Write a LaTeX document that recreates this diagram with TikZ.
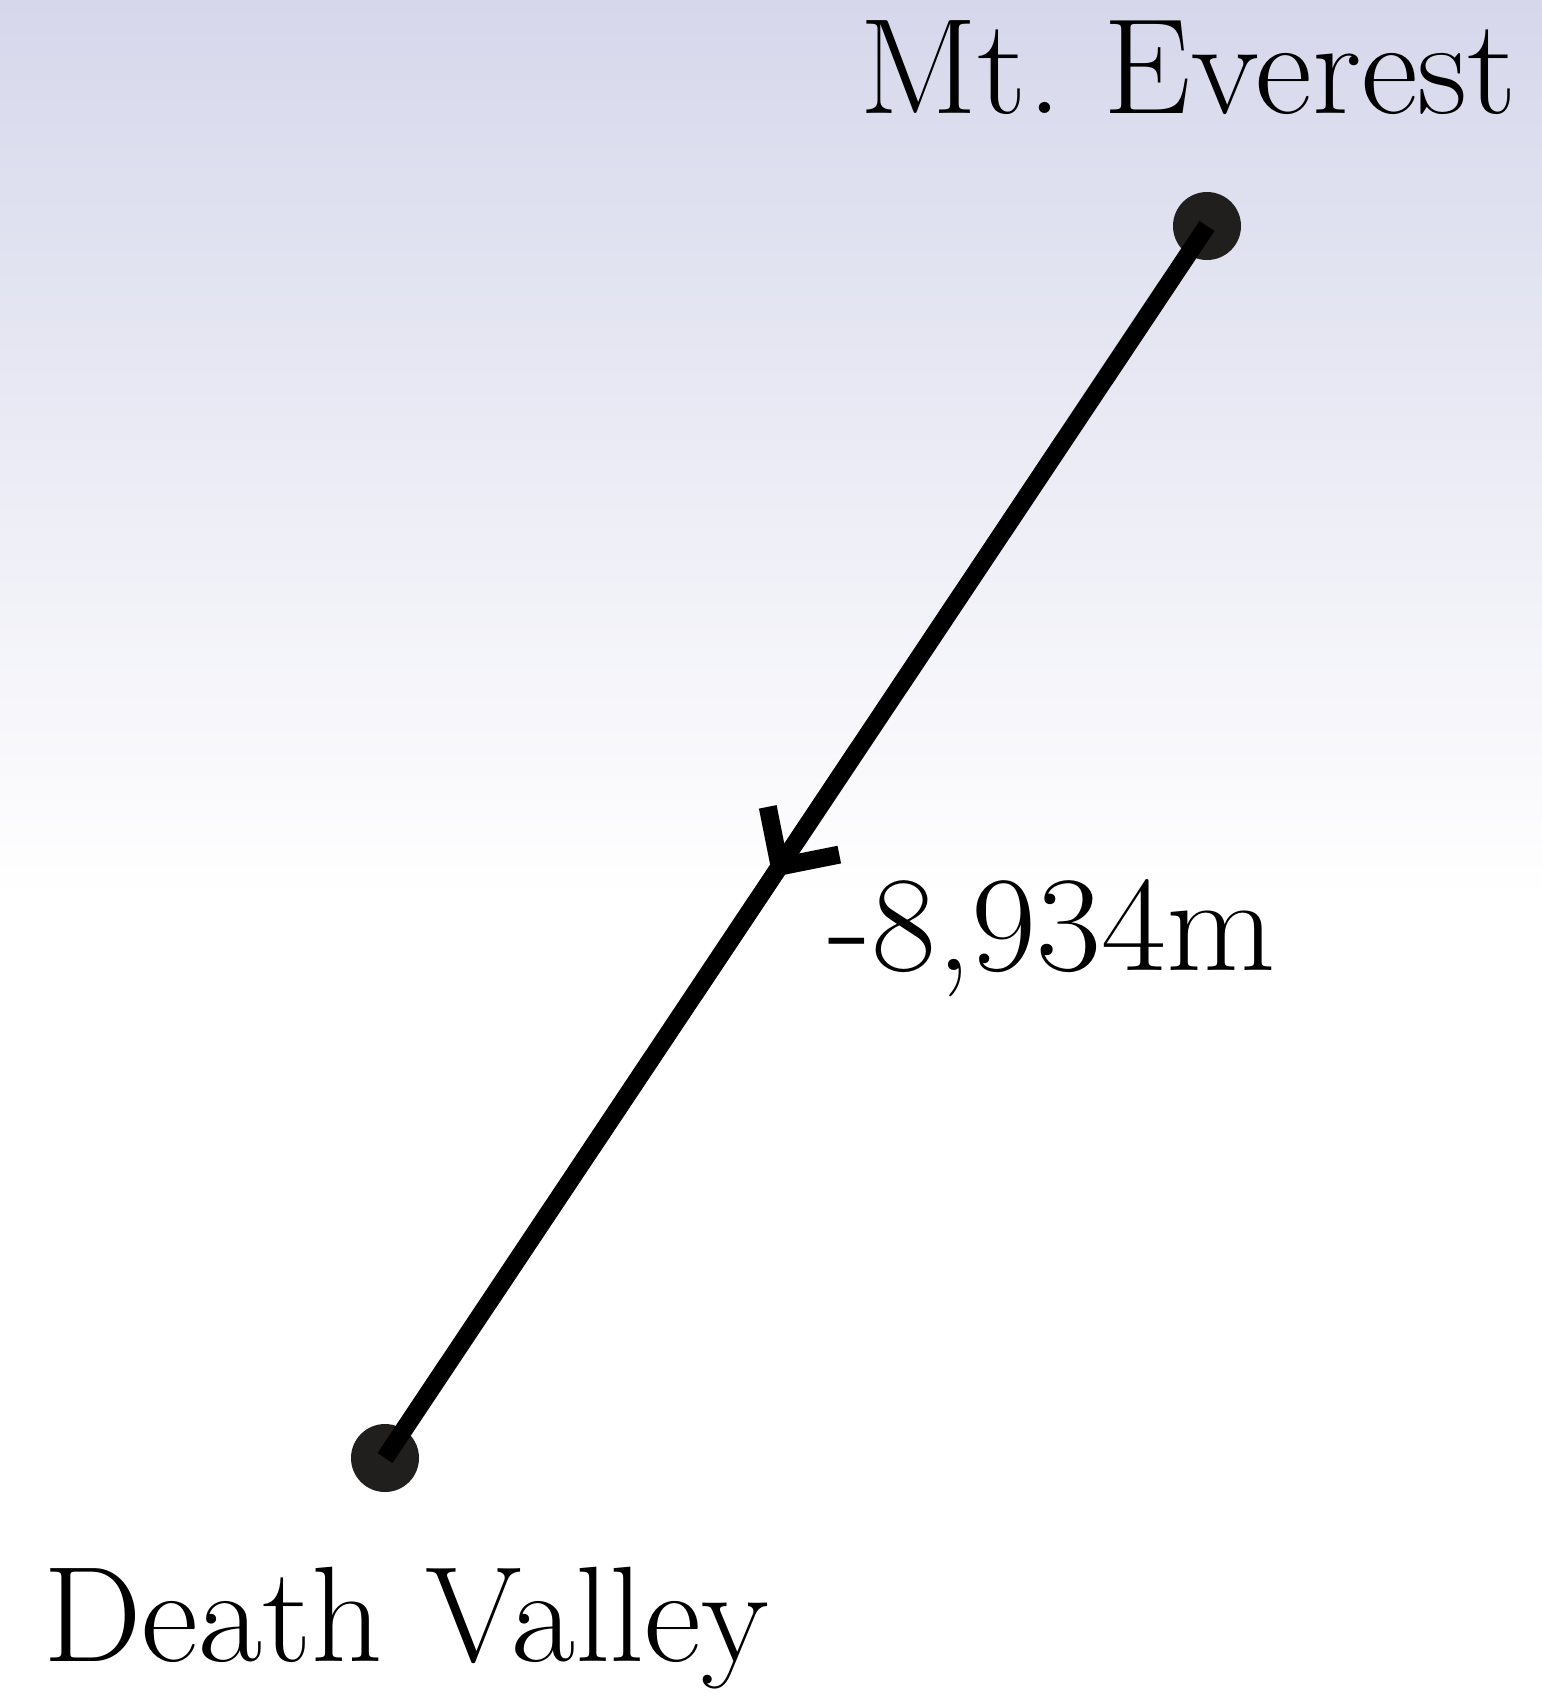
\documentclass[tikz,border=0pt]{standalone}
\usetikzlibrary{decorations.markings}
\definecolor{skytop}{RGB}{214,215,235}
\definecolor{dotgray}{RGB}{32,31,29}
\frenchspacing
\tikzset{
  place/.style={circle,fill=dotgray,minimum size=34pt,inner sep=0pt},
  bigtext/.style={inner sep=0pt,font=\fontsize{68}{68}\selectfont},
  connector/.style={line width=9pt,black,
    postaction={decorate,decoration={markings,
      mark=at position 0.52 with {\draw[line width=9pt,line join=miter,line cap=butt]
        (-21.5pt,21.5pt) -- (0,0) -- (-21.5pt,-21.5pt);}}}}
}
\begin{document}
\begin{tikzpicture}[x=0.5pt,y=-0.5pt]
\useasboundingbox (0,0) rectangle (1542,1694);
\fill[white] (0,0) rectangle (1542,1694);
\shade[top color=skytop,bottom color=white] (0,0) rectangle (1542,900);
\node[place] (E) at (1207,226) {};
\node[place] (D) at (385,1458) {};
\draw[connector] (E.center) -- (D.center);
\node[bigtext,anchor=base west] (lE) at (859,113) {\scalebox{1.024}[1]{Mt. Everest}};
\node[bigtext,anchor=base west] (lD) at (43,1661) {\scalebox{1.025}[1]{Death Valley}};
\node[bigtext,anchor=base west] (lab) at (828,970) {\scalebox{1.04}[1]{-8,934m}};
\end{tikzpicture}
\end{document}
